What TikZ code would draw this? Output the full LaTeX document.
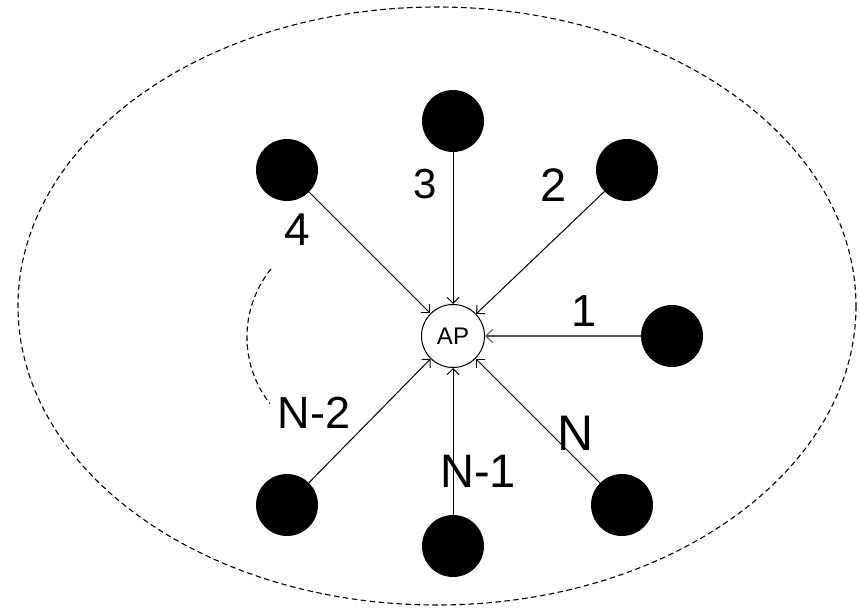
\documentclass[tikz,border=0pt]{standalone}
\usepackage{fontspec}
\setmainfont{Liberation Sans}
\usetikzlibrary{arrows.meta}
\begin{document}
\begin{tikzpicture}[x=1pt,y=-1pt,
  sta/.style={circle,fill=black,minimum size=62pt,inner sep=0pt},
  apnode/.style={circle,draw,line width=1pt,fill=white,minimum size=63pt,inner sep=0pt,font=\fontsize{24}{24}\selectfont},
  link/.style={line width=1pt,-{Straight Barb[length=6pt,width=12pt]}},
  thicklink/.style={line width=2pt,draw={rgb,255:red,85;green,85;blue,85},-{Straight Barb[length=7pt,width=13pt,line width=1pt]}},
  lbl/.style={inner sep=0pt},
  fs/.style={font=\fontsize{#1}{#1}\selectfont},
  dashline/.style={line width=1.1pt,dash pattern=on 5.5pt off 3.5pt}]
\useasboundingbox (0,0) rectangle (860,613);
\fill[white] (0,0) rectangle (860,613);
\coordinate (ctr) at (437,306);
\draw[dashline] (ctr) ellipse [x radius=419, y radius=299];

\node[apnode] (ap) at (453,336) {AP};
\node[sta] (n3) at (453,121) {};
\node[sta] (n2) at (627,170) {};
\node[sta] (n4) at (287,170) {};
\node[sta] (n1) at (672,336) {};
\node[sta] (nN) at (622,505) {};
\node[sta] (nN1) at (453,546) {};
\node[sta] (nN2) at (287,505) {};

\draw[link] (n3) -- (ap);
\draw[link] (n2) -- (ap);
\draw[link] (n4) -- (ap);
\draw[thicklink] (n1) -- (ap);
\draw[link] (nN) -- (ap);
\draw[link] (nN1) -- (ap);
\draw[link] (nN2) -- (ap);

\node[lbl,fs=42] (l3) at (425.5,184) {3};
\node[lbl,fs=47] (l2) at (553.7,185.5) {2};
\node[lbl,fs=46] (l4) at (297,229.7) {4};
\node[lbl,fs=45] (l1) at (584,311) {1};
\node[lbl,fs=50] (lN) at (576,433) {N};
\node[lbl,fs=47] (lN1) at (478,471) {N-1};
\node[lbl,fs=45] (lN2) at (314,413) {N-2};

\coordinate (arcstart) at (271,269);
\draw[dashline] (arcstart) arc[start angle=219, end angle=142, radius=108];
\end{tikzpicture}
\end{document}
